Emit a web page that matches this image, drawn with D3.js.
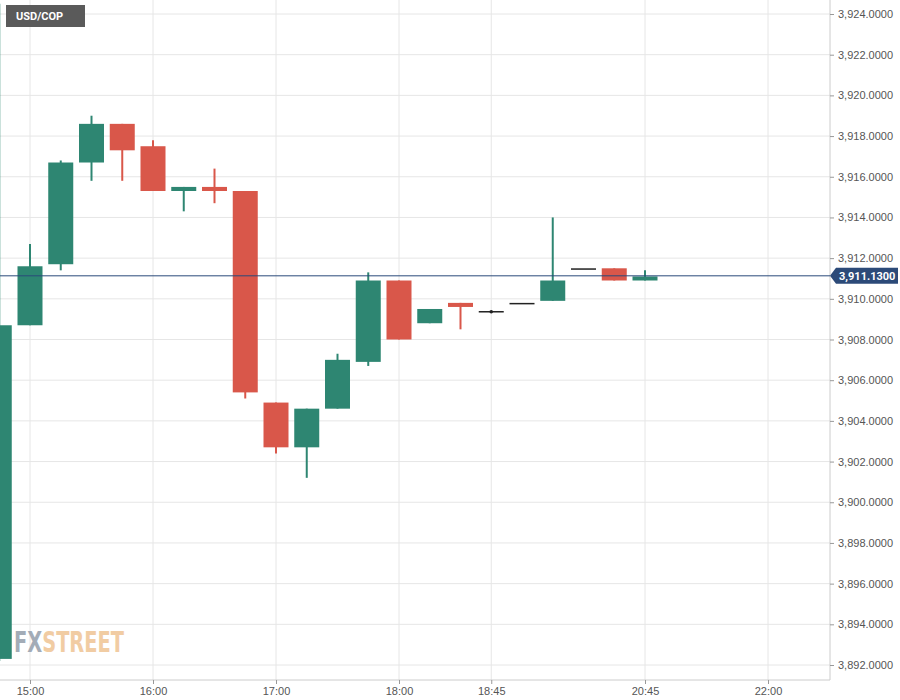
<!DOCTYPE html>
<html><head><meta charset="utf-8">
<script src="https://cdn.jsdelivr.net/npm/d3@7"></script>
<style>body{margin:0;background:#fff;font-family:Roboto,"Open Sans",sans-serif}</style>
</head><body><svg id="c" width="900" height="700"></svg>
<script>
const idx   = [-1,0,1,2,3,4,5,6,7,8,9,10,11,12,13,14,15,16,17,18,19,20];
const opens = [3892.3,3908.7,3911.7,3916.7,3918.6,3917.5,3915.3,3915.5,3915.3,3904.9,3902.7,3904.6,3906.9,3910.9,3908.8,3909.8,3909.4,3909.8,3909.9,3911.5,3911.5,3910.9];
const highs = [3924.5,3912.7,3916.8,3919.0,3918.6,3917.8,3915.5,3916.4,3915.3,3904.9,3904.6,3907.3,3911.3,3910.9,3909.5,3909.8,3909.4,3909.8,3914.0,3911.5,3911.5,3911.4];
const lows  = [3892.2,3908.7,3911.4,3915.8,3915.8,3915.3,3914.3,3914.7,3905.1,3902.4,3901.2,3904.6,3906.7,3908.0,3908.8,3908.5,3909.4,3909.8,3909.9,3911.5,3910.9,3910.9];
const closes= [3908.7,3911.6,3916.7,3918.6,3917.3,3915.3,3915.5,3915.3,3905.4,3902.7,3904.6,3907.0,3910.9,3908.0,3909.5,3909.6,3909.4,3909.8,3910.9,3911.5,3910.9,3911.1];
const tickIdx = [0,4,8,12,15,20,24];
const tickLabels = ["15:00","16:00","17:00","18:00","18:45","20:45","22:00"];
const yTicks = d3.range(3892,3925,2);
const lastPrice = 3911.13;

const svg = d3.select("#c");
const R=830,B=680;
const x = d3.scaleLinear().domain([0,24]).range([30,768]);
const y = d3.scaleLinear().domain([3892,3924]).range([665,14]);
const cw = 25;
const g = svg.append("g");
g.selectAll(".hg").data(yTicks).join("line").attr("x1",0).attr("x2",R).attr("y1",d=>y(d)).attr("y2",d=>y(d)).attr("stroke","#e6e6e6");
g.selectAll(".vg").data(tickIdx).join("line").attr("x1",d=>x(d)).attr("x2",d=>x(d)).attr("y1",0).attr("y2",B).attr("stroke","#e6e6e6");
g.append("line").attr("x1",R).attr("x2",R).attr("y1",0).attr("y2",B).attr("stroke","#ccc");
g.append("line").attr("x1",0).attr("x2",R).attr("y1",B).attr("y2",B).attr("stroke","#ccc");
const ya = svg.append("g").attr("transform",`translate(${R},0)`).call(d3.axisRight(y).tickValues(yTicks).tickSize(4).tickFormat(d=>d3.format(",.4f")(d)));
ya.select(".domain").remove();
ya.selectAll("line").attr("stroke","#999");
ya.selectAll("text").attr("font-size",11).attr("fill","#555").attr("x",8);
const xa = svg.append("g").attr("transform",`translate(0,${B})`).call(d3.axisBottom(x).tickValues(tickIdx).tickSize(4).tickFormat((d,i)=>tickLabels[i]));
xa.select(".domain").remove();
xa.selectAll("line").attr("stroke","#999");
xa.selectAll("text").attr("font-size",11).attr("fill","#555");
svg.append("text").attr("x",14).attr("y",652).attr("font-size",29).attr("font-weight","bold").attr("font-family","'Liberation Sans Narrow','DejaVu Sans Condensed',sans-serif")
 .attr("textLength",110).attr("lengthAdjust","spacingAndGlyphs")
 .html('<tspan fill="#9aa4b0">FX</tspan><tspan fill="#f0c79a">STREET</tspan>').attr("opacity",0.9);
const data = idx.map((d,i)=>({i:d,o:opens[i],h:highs[i],l:lows[i],c:closes[i]}));
const col = d=> d.c>d.o?"#2e8672":(d.c<d.o?"#d9574a":"#222");
const cg = svg.append("g");
cg.selectAll(".w").data(data).join("line").attr("x1",d=>x(d.i)).attr("x2",d=>x(d.i)).attr("y1",d=>y(d.h)).attr("y2",d=>y(d.l)).attr("stroke",col).attr("stroke-width",2);
cg.selectAll(".b").data(data).join("rect").attr("x",d=>x(d.i)-cw/2).attr("width",cw)
 .attr("y",d=>y(Math.max(d.o,d.c))).attr("height",d=>Math.max(1.5,Math.abs(y(d.o)-y(d.c)))).attr("fill",col);
cg.append("circle").attr("cx",x(15)).attr("cy",y(opens[16])+0.7).attr("r",1.8).attr("fill","#222");
svg.append("line").attr("x1",0).attr("x2",R).attr("y1",y(lastPrice)).attr("y2",y(lastPrice)).attr("stroke","#2a4a7a").attr("stroke-width",1);
svg.append("path").attr("d",`M${R},${y(lastPrice)} l6,-8 h62 v16 h-62 z`).attr("fill","#2c4a78");
svg.append("text").attr("x",R+9).attr("y",y(lastPrice)+4).attr("fill","#fff").attr("font-size",11).attr("font-weight","bold").text(d3.format(",.4f")(lastPrice));
svg.append("rect").attr("x",6).attr("y",5).attr("width",79).attr("height",22).attr("fill","#5a5a5a");
svg.append("text").attr("x",16).attr("y",20).attr("fill","#fff").attr("font-size",11).attr("font-weight","bold").text("USD/COP");
</script></body></html>
